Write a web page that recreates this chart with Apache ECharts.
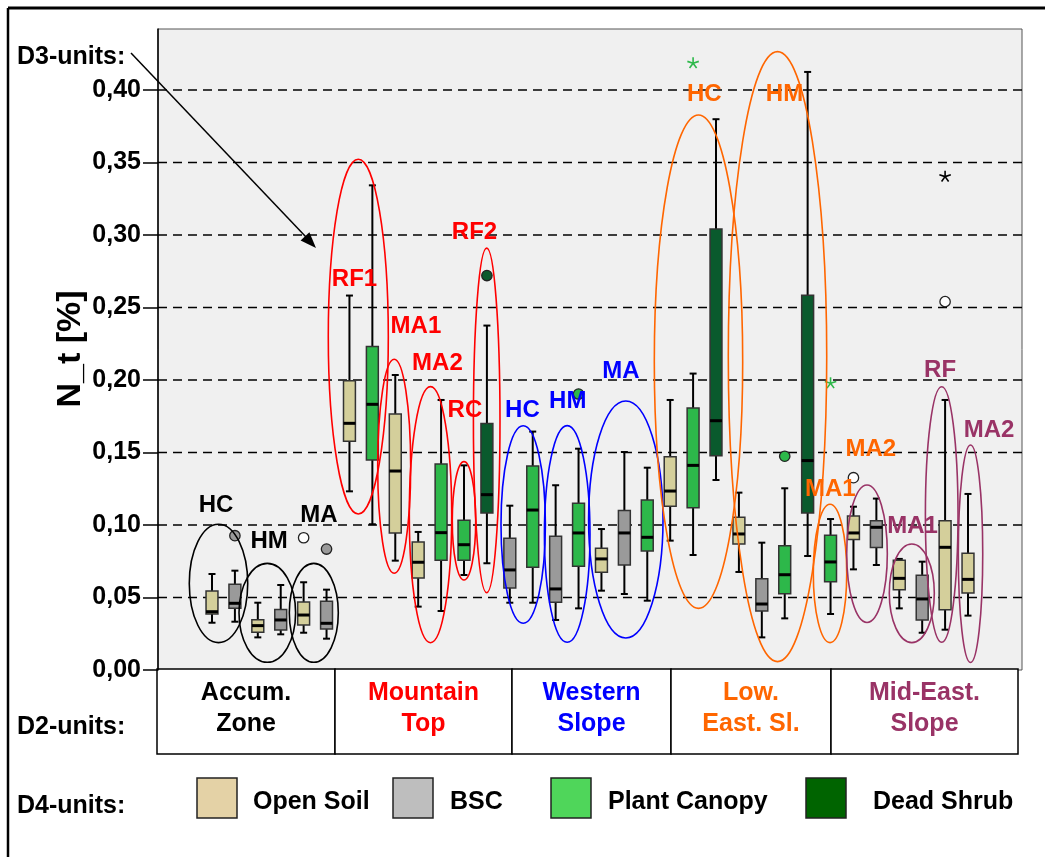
<!DOCTYPE html>
<html>
<head>
<meta charset="utf-8">
<script src="https://cdn.jsdelivr.net/npm/echarts@6.0.0/dist/echarts.min.js"></script>
<style>
  html, body { margin: 0; padding: 0; background: #fff; }
  #chart { width: 1045px; height: 857px; }
</style>
</head>
<body>
<div id="chart"></div>
<script>
// D4-units and the unit of every box (0 open soil, 1 BSC, 2 plant canopy, 3 dead shrub)
const unitNames = ["Open Soil", "BSC", "Plant Canopy", "Dead Shrub"];
const boxUnit = [0, 1, 0, 1, 0, 1, 0, 2, 0, 0, 2, 2, 3, 1, 2, 1, 2, 0, 1, 2, 0, 2, 3, 0, 1, 2, 3, 2, 0, 1, 0, 1, 0, 0];

// box statistics, N_t [%]
const whiskerLow = [0.0326, 0.0333, 0.0225, 0.0246, 0.0257, 0.0216, 0.1232, 0.1005, 0.0754, 0.0437, 0.0407, 0.0655, 0.0736,
  0.0464, 0.0464, 0.0345, 0.0425, 0.0547, 0.0524, 0.0478, 0.0892, 0.0793, 0.131, 0.0676, 0.0225, 0.0356, 0.0786, 0.0386,
  0.0694, 0.0724, 0.0425, 0.0257, 0.0278, 0.0375];
const q1 = [0.0386, 0.0425, 0.026, 0.0276, 0.031, 0.0283, 0.1577, 0.1448, 0.0945, 0.0634, 0.0756, 0.0756, 0.1083,
  0.0566, 0.0708, 0.0467, 0.0715, 0.0674, 0.0724, 0.0821, 0.1129, 0.1119, 0.1478, 0.0869, 0.0407, 0.0526, 0.1083, 0.0609,
  0.0899, 0.0844, 0.0554, 0.0345, 0.0416, 0.0531];
const median = [0.0402, 0.046, 0.0306, 0.0345, 0.0379, 0.0322, 0.1701, 0.1832, 0.1372, 0.0743, 0.0947, 0.0864, 0.1209,
  0.069, 0.1103, 0.0559, 0.0945, 0.0766, 0.0945, 0.0915, 0.1234, 0.1411, 0.1719, 0.0938, 0.0455, 0.0657, 0.1444, 0.0745,
  0.0945, 0.0984, 0.0632, 0.049, 0.0846, 0.0625];
const q3 = [0.0545, 0.0591, 0.0347, 0.0418, 0.0469, 0.0474, 0.1995, 0.223, 0.1766, 0.0883, 0.1421, 0.1032, 0.1699,
  0.0908, 0.1407, 0.0922, 0.115, 0.0839, 0.1099, 0.1172, 0.1471, 0.1807, 0.3041, 0.1053, 0.063, 0.0857, 0.2584, 0.0929,
  0.1062, 0.103, 0.0756, 0.0653, 0.103, 0.0805];
const whiskerHigh = [0.0662, 0.0685, 0.0464, 0.0586, 0.0605, 0.0554, 0.2582, 0.3342, 0.2034, 0.0952, 0.1862, 0.1411, 0.2375,
  0.1133, 0.1644, 0.1274, 0.1526, 0.0972, 0.1503, 0.1395, 0.1862, 0.2044, 0.3798, 0.1223, 0.0878, 0.1253, 0.4124, 0.1041,
  0.1126, 0.1182, 0.0766, 0.0747, 0.1862, 0.1214];

// outliers: box number (1-based), value, marker
const outlierBox = [2, 5, 6, 13, 17, 22, 26, 28, 29, 33, 33];
const outlierValue = [0.0926, 0.0912, 0.0834, 0.272, 0.1903, 0.4184, 0.1474, 0.1977, 0.1326, 0.3402, 0.254];
const outlierShape = ["o", "o", "o", "o", "o", "*", "o", "*", "o", "*", "o"];

const yTicks = [0, 0.05, 0.1, 0.15, 0.2, 0.25, 0.3, 0.35, 0.4];
const zoneNames = ["Accum.\nZone", "Mountain\nTop", "Western\nSlope", "Low.\nEast. Sl.", "Mid-East.\nSlope"];

// D3-unit annotations (box-number / value space)
const groupColors = ["#000000", "#ff0000", "#0000ff", "#ff6600", "#993366"];
const labelText = ["HC", "HM", "MA", "RF1", "MA1", "MA2", "RC", "RF2", "HC", "HM", "MA", "HC", "HM", "MA1", "MA2", "MA1", "RF", "MA2"];
const labelPos = [1.18, 3.49, 5.67, 7.22, 9.9, 10.84, 12.04, 12.46, 14.55, 16.53, 18.85, 22.49, 25.99, 27.99, 29.76, 31.58, 32.78, 34.92];
const labelValue = [0.1133, 0.0885, 0.1069, 0.2694, 0.2372, 0.2115, 0.1793, 0.3016, 0.1793, 0.185, 0.2062, 0.3966, 0.3966, 0.1246, 0.1524, 0.0988, 0.2064, 0.1655];
const labelGroup = [0, 0, 0, 1, 1, 1, 1, 1, 2, 2, 2, 3, 3, 3, 3, 4, 4, 4];
const ellipsePos = [1.284, 3.414, 5.444, 7.386, 8.953, 10.538, 12.0, 12.991, 14.584, 16.505, 19.063, 22.236, 25.685, 27.977, 29.592, 31.547, 32.852, 34.11];
const ellipseValue = [0.0597, 0.0394, 0.0394, 0.2299, 0.1405, 0.1071, 0.1029, 0.1721, 0.1003, 0.0938, 0.1038, 0.2126, 0.2161, 0.0666, 0.0802, 0.0529, 0.1072, 0.0802];
const ellipseHalfW = [1.275, 1.235, 1.069, 1.31, 0.72, 0.925, 0.511, 0.58, 0.969, 0.995, 1.624, 1.929, 2.148, 0.729, 0.886, 0.982, 0.712, 0.533];
const ellipseHalfH = [0.0408, 0.0341, 0.0341, 0.1223, 0.0738, 0.0883, 0.0408, 0.1188, 0.0681, 0.0747, 0.0817, 0.1701, 0.2103, 0.0477, 0.0474, 0.034, 0.0881, 0.075];
const ellipseGroup = [0, 0, 0, 1, 1, 1, 1, 1, 2, 2, 2, 3, 3, 3, 4, 4, 4, 4];

const FONT = '"Liberation Sans", Arial, sans-serif';
const boxFill = ["#d4cf9b", "#9a9a9a", "#2db84a", "#0a5a2d"];
const legendFill = ["#e4d2a6", "#bebebe", "#4fd65a", "#006400"];
const BOX_W = 0.52;

const myChart = echarts.init(document.getElementById("chart"));

function line(x1, y1, x2, y2, w, color) {
  return { type: "line", shape: { x1, y1, x2, y2 }, style: { stroke: color || "#000", lineWidth: w } };
}

function renderBox(params, api) {
  const x = api.value(0);
  const lo = api.coord([x, api.value(1)]);
  const b1 = api.coord([x, api.value(2)]);
  const md = api.coord([x, api.value(3)]);
  const b3 = api.coord([x, api.value(4)]);
  const hi = api.coord([x, api.value(5)]);
  const hw = api.size([BOX_W, 0])[0] / 2;
  const cx = lo[0];
  return {
    type: "group",
    children: [
      line(cx, hi[1], cx, b3[1], 2),
      line(cx, b1[1], cx, lo[1], 2),
      line(cx - 3.5, hi[1], cx + 3.5, hi[1], 2),
      line(cx - 3.5, lo[1], cx + 3.5, lo[1], 2),
      {
        type: "rect",
        shape: { x: cx - hw, y: b3[1], width: hw * 2, height: b1[1] - b3[1] },
        style: { fill: boxFill[boxUnit[params.dataIndex]], stroke: "#333", lineWidth: 1.5 },
      },
      line(cx - hw, md[1], cx + hw, md[1], 3),
    ],
  };
}

function renderOutlier(params, api) {
  const k = params.dataIndex;
  const p = api.coord([api.value(0), api.value(1)]);
  const unit = boxUnit[outlierBox[k] - 1];
  if (outlierShape[k] === "*") {
    const c = unit === 0 ? "#000" : boxFill[unit];
    const r = 6;
    const kids = [];
    for (let a = 0; a < 5; a++) {
      const t = (a * 2 * Math.PI) / 5 - Math.PI / 2;
      kids.push(line(p[0], p[1], p[0] + r * Math.cos(t), p[1] + r * Math.sin(t), 1.6, c));
    }
    return { type: "group", children: kids };
  }
  return {
    type: "circle",
    shape: { cx: p[0], cy: p[1], r: 5.2 },
    style: { fill: unit === 0 ? "#fff" : boxFill[unit], stroke: "#222", lineWidth: 1.3 },
  };
}

function renderGrid(params, api) {
  const p = api.coord([0, api.value(1)]);
  const cs = params.coordSys;
  return {
    type: "line",
    shape: { x1: cs.x, y1: p[1], x2: cs.x + cs.width, y2: p[1] },
    style: { stroke: "#000", lineWidth: 1.5, lineDash: [9, 6] },
  };
}

function renderEllipse(params, api) {
  const k = params.dataIndex;
  const c = api.coord([api.value(0), api.value(1)]);
  return {
    type: "ellipse",
    shape: { cx: c[0], cy: c[1], rx: api.size([ellipseHalfW[k], 0])[0], ry: api.size([0, ellipseHalfH[k]])[1] },
    style: { fill: "none", stroke: groupColors[ellipseGroup[k]], lineWidth: 1.6 },
  };
}

function renderLabel(params, api) {
  const k = params.dataIndex;
  const p = api.coord([api.value(0), api.value(1)]);
  return {
    type: "text",
    x: p[0],
    y: p[1],
    style: {
      text: labelText[k],
      fill: groupColors[labelGroup[k]],
      font: "bold 24px " + FONT,
      align: "center",
      verticalAlign: "middle",
    },
  };
}

// D2 table, legend and frame
const cells = [[157, 335], [335, 512], [512, 671], [671, 831], [831, 1018]];
const graphic = [
  line(8, 8, 1045, 8, 3),
  line(8, 8, 8, 857, 2.5),
  line(131, 53, 306, 237, 1.5),
  { type: "polygon", shape: { points: [[316, 248], [300.6, 240.5], [309.4, 232.3]] }, style: { fill: "#000" } },
  {
    type: "text", x: 17, y: 57,
    style: { text: "D3-units:", font: "bold 25px " + FONT, fill: "#000", align: "left", verticalAlign: "middle" },
  },
  {
    type: "text", x: 17, y: 727,
    style: { text: "D2-units:", font: "bold 25px " + FONT, fill: "#000", align: "left", verticalAlign: "middle" },
  },
  {
    type: "text", x: 17, y: 806,
    style: { text: "D4-units:", font: "bold 25px " + FONT, fill: "#000", align: "left", verticalAlign: "middle" },
  },
  {
    type: "text", x: 71, y: 349, rotation: Math.PI / 2,
    style: { text: "N_t [%]", font: "bold 34px " + FONT, fill: "#000", align: "center", verticalAlign: "middle" },
  },
];
cells.forEach((c, k) => {
  graphic.push({
    type: "rect",
    shape: { x: c[0], y: 669, width: c[1] - c[0], height: 85 },
    style: { fill: "#fff", stroke: "#000", lineWidth: 1.5 },
  });
  graphic.push({
    type: "text", x: (c[0] + c[1]) / 2, y: 709,
    style: {
      text: zoneNames[k], font: "bold 25px " + FONT, fill: groupColors[k],
      align: "center", verticalAlign: "middle", lineHeight: 31,
    },
  });
});
const legendBoxX = [197, 393, 551, 806];
const legendTextX = [253, 450, 608, 873];
unitNames.forEach((n, k) => {
  graphic.push({
    type: "rect",
    shape: { x: legendBoxX[k], y: 778, width: 40, height: 40 },
    style: { fill: legendFill[k], stroke: "#222", lineWidth: 1.5 },
  });
  graphic.push({
    type: "text", x: legendTextX[k], y: 802,
    style: { text: n, font: "bold 25px " + FONT, fill: "#000", align: "left", verticalAlign: "middle" },
  });
});

const option = {
  animation: false,
  grid: {
    left: 158, right: 23, top: 29, bottom: 187,
    show: true, backgroundColor: "#f0f0f0", borderColor: "#555", borderWidth: 1,
  },
  xAxis: { type: "value", min: -1.357, max: 36.357, show: false },
  yAxis: {
    type: "value", min: 0, max: 0.442, interval: 0.05,
    axisLine: { show: true, onZero: false, lineStyle: { color: "#000", width: 1.5 } },
    axisTick: { show: true, inside: false, length: 15, lineStyle: { color: "#000", width: 1.5 }, customValues: yTicks },
    axisLabel: {
      customValues: yTicks,
      margin: 17,
      color: "#000",
      fontSize: 25,
      fontWeight: "bold",
      fontFamily: FONT,
      formatter: (v) => (Math.abs(v * 20 - Math.round(v * 20)) < 1e-6 ? v.toFixed(2).replace(".", ",") : ""),
    },
    splitLine: { show: false },
  },
  graphic: graphic,
  series: [
    {
      type: "custom", z: 1, silent: true,
      renderItem: renderGrid,
      data: yTicks.filter((v) => v > 0).map((v) => [0, v]),
    },
    {
      type: "custom", z: 2,
      renderItem: renderBox,
      encode: { x: 0, y: [1, 2, 3, 4, 5] },
      data: boxUnit.map((u, k) => [k + 1, whiskerLow[k], q1[k], median[k], q3[k], whiskerHigh[k]]),
    },
    {
      type: "custom", z: 3,
      renderItem: renderOutlier,
      data: outlierBox.map((b, k) => [b, outlierValue[k]]),
    },
    {
      type: "custom", z: 4, silent: true,
      renderItem: renderEllipse,
      data: ellipsePos.map((x, k) => [x, ellipseValue[k]]),
    },
    {
      type: "custom", z: 5, silent: true,
      renderItem: renderLabel,
      data: labelPos.map((x, k) => [x, labelValue[k]]),
    },
  ],
};
myChart.setOption(option);
</script>
</body>
</html>
